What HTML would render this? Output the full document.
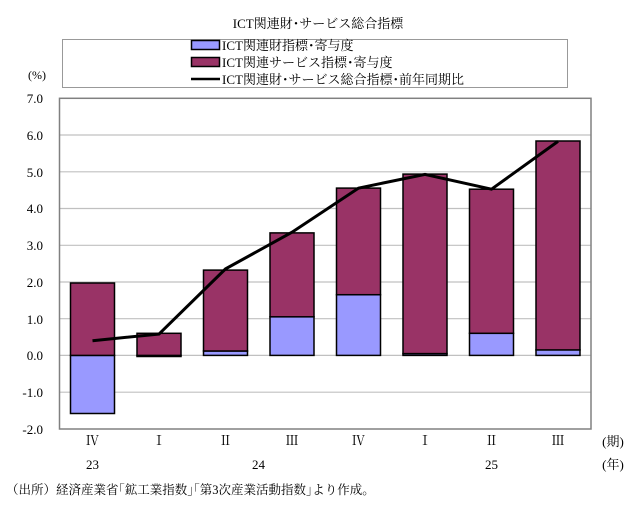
<!DOCTYPE html>
<html><head><meta charset="utf-8"><style>
body{margin:0;background:#fff}
svg text{font-family:"Liberation Serif","Noto Serif CJK SC","Noto Sans CJK JP",serif;fill:#000}
</style></head><body>
<svg width="636" height="509" viewBox="0 0 636 509" xmlns="http://www.w3.org/2000/svg">
<text x="318" y="28" font-size="13" text-anchor="middle">ICT関連財･サービス総合指標</text>
<rect x="62.5" y="39.5" width="505" height="48" fill="#fff" stroke="#999"/>
<rect x="191.5" y="40.5" width="28" height="9" fill="#9999ff" stroke="#000" stroke-width="1.5"/>
<text x="222" y="50" font-size="13">ICT関連財指標･寄与度</text>
<rect x="191.5" y="57.5" width="28" height="9" fill="#993366" stroke="#000" stroke-width="1.5"/>
<text x="222" y="67" font-size="13">ICT関連サービス指標･寄与度</text>
<line x1="191" y1="79" x2="220" y2="79" stroke="#000" stroke-width="2.5"/>
<text x="222" y="84" font-size="13">ICT関連財･サービス総合指標･前年同期比</text>
<text x="28" y="79" font-size="12">(%)</text>
<g stroke="#c0c0c0" stroke-width="1.2">
<line x1="60" y1="135" x2="591" y2="135"/><line x1="60" y1="171.8" x2="591" y2="171.8"/>
<line x1="60" y1="208.5" x2="591" y2="208.5"/><line x1="60" y1="245.3" x2="591" y2="245.3"/>
<line x1="60" y1="282" x2="591" y2="282"/><line x1="60" y1="318.7" x2="591" y2="318.7"/>
<line x1="60" y1="355.4" x2="591" y2="355.4"/><line x1="60" y1="392.2" x2="591" y2="392.2"/>
</g>
<rect x="59.5" y="98.3" width="531.5" height="330.7" fill="none" stroke="#808080" stroke-width="1.5"/>
<g font-size="13" text-anchor="end">
<text x="43" y="103">7.0</text><text x="43" y="140">6.0</text><text x="43" y="177">5.0</text>
<text x="43" y="213">4.0</text><text x="43" y="250">3.0</text><text x="43" y="287">2.0</text>
<text x="43" y="324">1.0</text><text x="43" y="360">0.0</text><text x="43" y="397">-1.0</text><text x="43" y="434">-2.0</text>
</g>
<g stroke="#000" stroke-width="1.5">
<rect x="70.5" y="355.4" width="44" height="58.1" fill="#9999ff"/>
<rect x="70.5" y="283" width="44" height="72.4" fill="#993366"/>
<rect x="137" y="355.4" width="44" height="1.1" fill="#9999ff"/>
<rect x="137" y="333.3" width="44" height="22.1" fill="#993366"/>
<rect x="203.5" y="351" width="44" height="4.4" fill="#9999ff"/>
<rect x="203.5" y="270.1" width="44" height="80.9" fill="#993366"/>
<rect x="270" y="316.8" width="44" height="38.6" fill="#9999ff"/>
<rect x="270" y="232.9" width="44" height="83.9" fill="#993366"/>
<rect x="336.5" y="294.7" width="44" height="60.7" fill="#9999ff"/>
<rect x="336.5" y="188.1" width="44" height="106.6" fill="#993366"/>
<rect x="403" y="353.6" width="44" height="1.8" fill="#9999ff"/>
<rect x="403" y="174.1" width="44" height="179.5" fill="#993366"/>
<rect x="469.5" y="333.3" width="44" height="22.1" fill="#9999ff"/>
<rect x="469.5" y="189.2" width="44" height="144.1" fill="#993366"/>
<rect x="536" y="349.9" width="44" height="5.5" fill="#9999ff"/>
<rect x="536" y="141" width="44" height="208.9" fill="#993366"/>
</g>
<polyline fill="none" stroke="#000" stroke-width="3" points="92.5,340.7 159,334.1 225.5,268.9 292,232.2 358.5,188.1 425,174.4 491.5,189.2 558,141.4"/>
<g font-size="13" text-anchor="middle">
<text x="92.5" y="445">Ⅳ</text><text x="159" y="445">Ⅰ</text><text x="225.5" y="445">Ⅱ</text><text x="292" y="445">Ⅲ</text>
<text x="358.5" y="445">Ⅳ</text><text x="425" y="445">Ⅰ</text><text x="491.5" y="445">Ⅱ</text><text x="558" y="445">Ⅲ</text>
<text x="92.5" y="469">23</text><text x="258.5" y="469">24</text><text x="491.5" y="469">25</text>
<text x="613" y="446">(期)</text><text x="613" y="469">(年)</text>
</g>
<text x="6" y="494" font-size="12.5">（出所）経済産業省｢鉱工業指数｣｢第3次産業活動指数｣より作成。</text>
</svg>
</body></html>
